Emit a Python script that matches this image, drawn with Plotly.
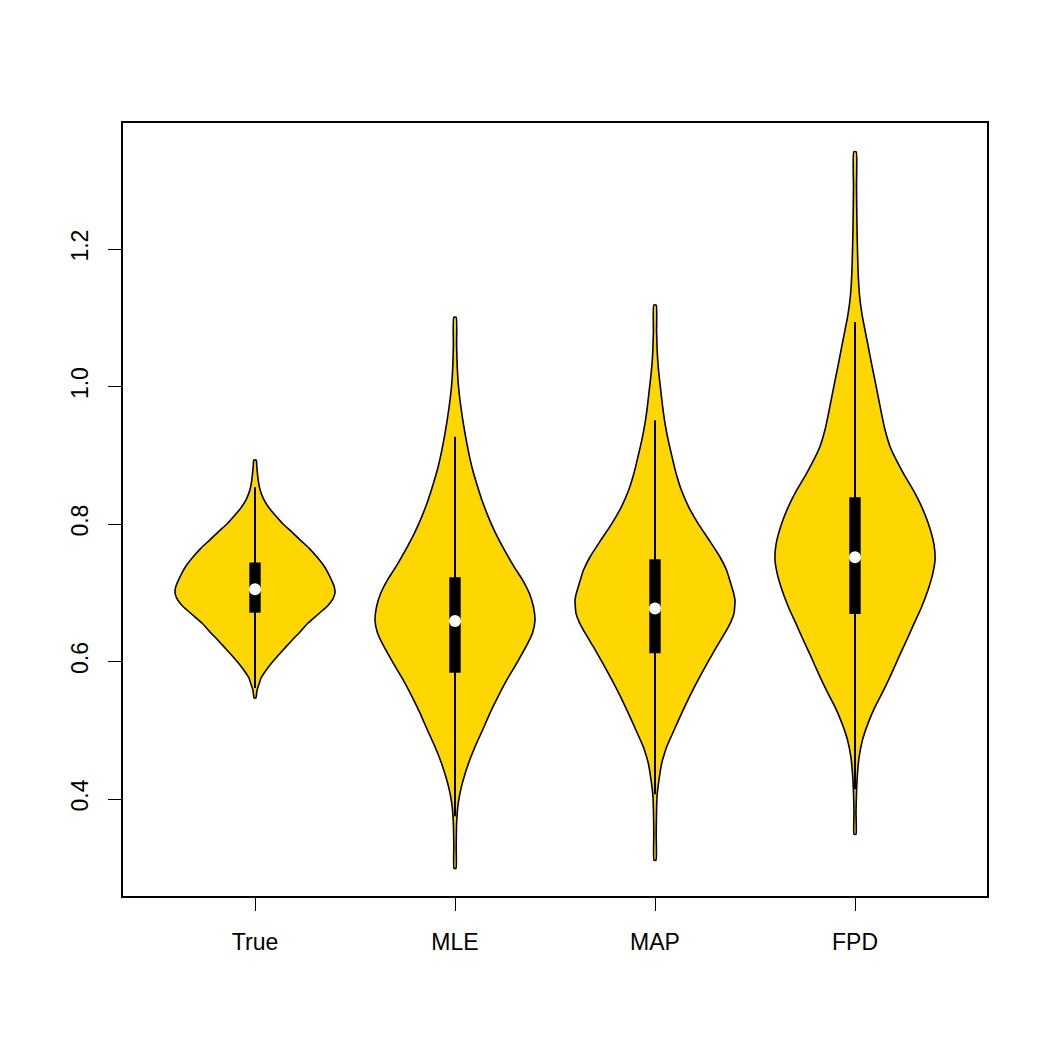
import plotly.graph_objects as go

categories = ["True", "MLE", "MAP", "FPD"]
positions = [1, 2, 3, 4]

# Density outlines: y levels and half-widths (x-axis units)
true_y = [0.547, 0.552, 0.558, 0.563, 0.569, 0.576, 0.583, 0.595, 0.607, 0.619, 0.631, 0.643, 0.656, 0.668,
          0.680, 0.690, 0.700, 0.710, 0.720, 0.729, 0.741, 0.752, 0.765, 0.777, 0.789, 0.800, 0.813, 0.825,
          0.837, 0.849, 0.862, 0.874, 0.884, 0.893]
true_w = [0.005, 0.0075, 0.010, 0.015, 0.0225, 0.030, 0.045, 0.075, 0.110, 0.1475, 0.185, 0.225, 0.265, 0.3125,
          0.360, 0.3875, 0.400, 0.395, 0.380, 0.365, 0.340, 0.310, 0.270, 0.225, 0.1825, 0.140, 0.100, 0.066,
          0.042, 0.026, 0.017, 0.012, 0.009, 0.006]

mle_y = [0.299, 0.33, 0.36, 0.379, 0.391, 0.403, 0.415, 0.428, 0.452, 0.476, 0.500, 0.525, 0.549, 0.573,
         0.597, 0.6215, 0.6415, 0.660, 0.680, 0.699, 0.7185, 0.738, 0.762, 0.786, 0.810, 0.835, 0.860,
         0.883, 0.907, 0.932, 0.956, 0.980, 1.005, 1.030, 1.060, 1.1007]
mle_w = [0.005, 0.006, 0.0075, 0.011, 0.015, 0.0215, 0.030, 0.0415, 0.0675, 0.100, 0.1375, 0.175, 0.215, 0.2585,
         0.3075, 0.355, 0.3875, 0.400, 0.392, 0.372, 0.338, 0.295, 0.2475, 0.204, 0.167, 0.1345, 0.107,
         0.0845, 0.066, 0.050, 0.0365, 0.025, 0.016, 0.011, 0.008, 0.006]

map_y = [0.311, 0.350, 0.380, 0.403, 0.415, 0.428, 0.440, 0.452, 0.464, 0.476, 0.500, 0.525, 0.549, 0.573,
         0.597, 0.6215, 0.646, 0.658, 0.670, 0.689, 0.700, 0.7137, 0.733, 0.752, 0.776, 0.801, 0.825, 0.849,
         0.873, 0.898, 0.922, 0.9465, 0.970, 0.995, 1.020, 1.0434, 1.080, 1.1185]
map_w = [0.005, 0.006, 0.0075, 0.010, 0.014, 0.020, 0.026, 0.0335, 0.045, 0.0585, 0.095, 0.1335, 0.1725, 0.215,
         0.260, 0.3085, 0.3585, 0.380, 0.395, 0.400, 0.3925, 0.3785, 0.3575, 0.325, 0.272, 0.215, 0.168, 0.132,
         0.106, 0.085, 0.066, 0.050, 0.0385, 0.0285, 0.019, 0.0125, 0.008, 0.006]

fpd_y = [0.3487, 0.380, 0.410, 0.437, 0.460, 0.486, 0.510, 0.534, 0.558, 0.583, 0.607, 0.6313, 0.655, 0.6797,
         0.704, 0.726, 0.7476, 0.770, 0.800, 0.825, 0.850, 0.8737, 0.895, 0.912, 0.937, 0.960, 0.985, 1.010,
         1.0337, 1.060, 1.082, 1.105, 1.130, 1.155, 1.180, 1.230, 1.290, 1.3415]
fpd_w = [0.005, 0.005, 0.0075, 0.0125, 0.020, 0.0375, 0.065, 0.100, 0.1425, 0.1835, 0.220, 0.2585, 0.295, 0.3335,
         0.365, 0.3875, 0.400, 0.395, 0.3675, 0.3335, 0.290, 0.242, 0.203, 0.176, 0.150, 0.133, 0.116, 0.099,
         0.0825, 0.065, 0.050, 0.035, 0.0235, 0.0175, 0.014, 0.010, 0.0075, 0.006]

# Box statistics
q1 = [0.671, 0.5837, 0.612, 0.669]
q3 = [0.744, 0.7225, 0.7486, 0.8388]
medians = [0.705, 0.659, 0.677, 0.7516]
whisk_lo = [0.5615, 0.375, 0.407, 0.414]
whisk_hi = [0.8535, 0.927, 0.951, 1.094]

y_ticks = [0.4, 0.6, 0.8, 1.0, 1.2]
y_ticktext = ["0.4", "0.6", "0.8", "1.0", "1.2"]

outlines = [(true_y, true_w), (mle_y, mle_w), (map_y, map_w), (fpd_y, fpd_w)]

FILL = "#FFD700"
BOX_HALF = 0.0285

fig = go.Figure()
for i, (ys, ws) in enumerate(outlines):
    c = positions[i]
    xs = [c + w for w in ws] + [c - w for w in reversed(ws)] + [c + ws[0]]
    yy = list(ys) + list(reversed(ys)) + [ys[0]]
    fig.add_trace(go.Scatter(x=xs, y=yy, mode="lines", fill="toself", fillcolor=FILL,
                             line=dict(color="black", width=1.6, shape="spline", smoothing=0.5),
                             showlegend=False, hoverinfo="skip"))
    # whisker
    fig.add_trace(go.Scatter(x=[c, c], y=[whisk_lo[i], whisk_hi[i]], mode="lines",
                             line=dict(color="black", width=2), showlegend=False, hoverinfo="skip"))
    # box
    fig.add_trace(go.Scatter(x=[c - BOX_HALF, c + BOX_HALF, c + BOX_HALF, c - BOX_HALF, c - BOX_HALF],
                             y=[q1[i], q1[i], q3[i], q3[i], q1[i]], mode="lines", fill="toself",
                             fillcolor="black", line=dict(color="black", width=0),
                             showlegend=False, hoverinfo="skip"))
    # median
    fig.add_trace(go.Scatter(x=[c], y=[medians[i]], mode="markers",
                             marker=dict(color="white", size=12, line=dict(width=0)),
                             showlegend=False, hoverinfo="skip"))

font = dict(family="Liberation Sans, Arial, sans-serif", size=23, color="black")
fig.update_layout(
    width=1050, height=1050,
    margin=dict(l=123, r=63, t=123, b=154),
    paper_bgcolor="white", plot_bgcolor="white",
    font=font,
    xaxis=dict(range=[0.34, 4.66], tickvals=positions, ticktext=categories,
               showgrid=False, zeroline=False, showline=True, mirror=True,
               linecolor="black", linewidth=1.5, ticks="outside", ticklen=13,
               tickwidth=1.2, tickcolor="black", ticklabelstandoff=12),
    yaxis=dict(range=[0.2589, 1.3833], tickvals=y_ticks, ticktext=y_ticktext,
               tickangle=-90, showgrid=False, zeroline=False, showline=True, mirror=True,
               linecolor="black", linewidth=1.5, ticks="outside", ticklen=13,
               tickwidth=1.2, tickcolor="black", ticklabelstandoff=11),
)

fig.write_html("out.html")
